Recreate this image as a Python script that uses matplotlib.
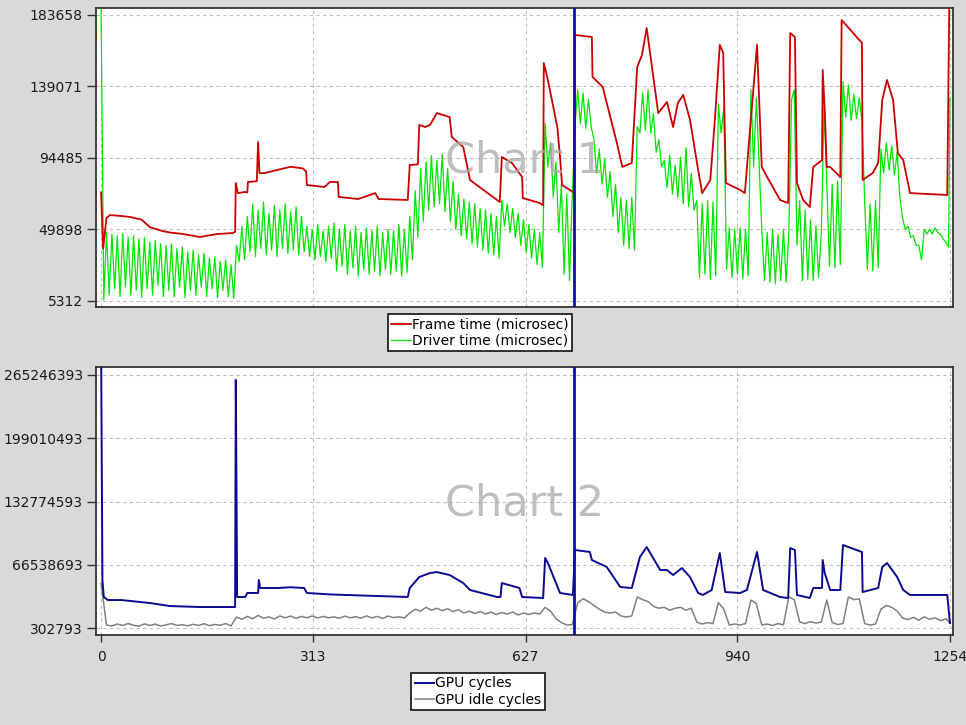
import numpy as np
import matplotlib
matplotlib.use("Agg")
import matplotlib.pyplot as plt

# ---- data ----
x_ticks = [0, 313, 627, 940, 1254]
top_ticks = [5312, 49898, 94485, 139071, 183658]
bottom_ticks = [302793, 66538693, 132774593, 199010493, 265246393]
cursor_x = 698

# Frame time (thousand microsec)
red_x = [0, 3, 8, 13, 30, 43, 60, 72, 90, 102, 121, 146, 170, 195, 198, 199, 202, 213, 216, 217,
         230, 232, 234, 242, 260, 280, 298, 303, 304, 330, 338, 350, 351, 380, 405, 410, 453, 456,
         468, 470, 479, 486, 496, 515, 518, 535, 545, 555, 585, 589, 592, 607, 622, 623, 648, 653,
         654, 660, 674, 678, 681, 697, 699, 700, 725, 726, 741, 762, 770, 784, 792, 799, 806, 815,
         823, 836, 845, 852, 860, 870, 882, 888, 900, 907, 914, 919, 923, 944, 951, 959, 969, 976,
         984, 1003, 1015, 1018, 1025, 1028, 1037, 1047, 1052, 1065, 1066, 1069, 1072, 1077, 1092,
         1094, 1111, 1124, 1125, 1140, 1148, 1154, 1161, 1170, 1177, 1185, 1195, 1250, 1253]
red_y = [73, 38, 57, 58.9, 58.3, 57.7, 56, 51.4, 49, 48, 47.1, 45.2, 47, 47.7, 48.5, 78.9, 72.6,
         73.3, 73, 79.5, 80, 104.5, 85, 85.1, 87, 89, 88, 86, 77.6, 76.4, 79.5, 79.5, 70.2, 68.9,
         72.6, 68.9, 68.3, 90.1, 90.5, 115.1, 113.8, 115.1, 122.5, 120, 107.6, 101.3, 80.8, 77.6,
         68.3, 67, 95.1, 91.4, 82.6, 69.5, 66.4, 65, 153.7, 143.1, 113.8, 95.1, 77.6, 73.3, 73,
         171.2, 169.9, 145, 138.8, 103.8, 88.9, 91.4, 151.2, 158.7, 175.5, 147.5, 122.5, 129.4,
         113.8, 128.8, 133.8, 118.2, 87, 72.6, 80.8, 120, 165, 160, 78.9, 74.5, 72.6, 113.8, 165,
         88.9, 82.6, 68.3, 66.4, 172.4, 169.9, 78.9, 68.3, 63.9, 88.9, 93.2, 149.4, 124.4, 88.9,
         88.9, 82.6, 180.5, 172.4, 166.2, 80.8, 85.1, 91.4, 130.6, 143.1, 130.6, 97.6, 93.2, 72.6,
         71.4, 190]

# Driver time (thousand microsec): alternating high / low samples, every 4 frames
green_hi = [188, 48, 47, 46, 47.5, 45, 46, 44, 45, 42,
            43, 41, 40, 41, 38, 39, 36, 37, 34, 35,
            32, 33, 30, 31, 28, 40, 52, 58, 66, 62,
            67, 60, 65, 62, 66, 61, 64, 58, 52, 50,
            53, 49, 52, 54, 50, 53, 49, 52, 48, 51,
            49, 52, 48, 50, 49, 53, 50, 58, 74, 88,
            92, 96, 93, 97, 88, 80, 72, 69, 67, 66,
            63, 62, 60, 58, 68, 66, 63, 60, 56, 53,
            50, 48, 116, 104, 92, 78, 72, 70, 137, 135,
            131, 106, 100, 94, 86, 78, 70, 68, 70, 114,
            135, 137, 122, 106, 93, 96, 90, 95, 101, 85,
            68, 66, 68, 67, 128, 126, 51, 50, 51, 50,
            137, 132, 50, 48, 50, 47, 50, 48, 137, 68,
            62, 56, 52, 48, 80, 78, 80, 142, 140, 134,
            132, 68, 66, 68, 100, 104, 102, 98, 57, 52,
            46, 40, 50, 50, 51, 47, 42]
green_lo = [6, 9, 13, 8, 14, 9, 12, 7.5, 13, 9,
            15, 8, 12, 8, 14, 7.5, 12, 9, 14, 8,
            13, 7.5, 12, 8, 7, 30, 31, 36, 33, 38,
            34, 37, 33, 38, 35, 37, 34, 36, 33, 31,
            33, 30, 32, 24, 27, 22, 26, 21, 25, 22,
            24, 21, 25, 22, 24, 21, 23, 31, 45, 55,
            62, 64, 66, 61, 55, 50, 46, 44, 41, 39,
            37, 35, 34, 32, 52, 48, 45, 40, 36, 32,
            28, 26, 89, 70, 48, 22, 18, 114, 116, 113,
            114, 85, 78, 70, 58, 48, 40, 38, 37, 110,
            112, 110, 98, 89, 76, 72, 70, 66, 64, 62,
            20, 22, 19, 21, 110, 25, 20, 22, 19, 21,
            89, 92, 18, 17, 16, 18, 17, 131, 40, 18,
            19, 18, 20, 126, 27, 26, 28, 120, 118, 119,
            118, 25, 24, 26, 85, 87, 84, 70, 50, 45,
            40, 31, 47, 47, 48, 44, 39]
green_last = 132

# GPU cycles (millions)
blue_x = [0, 2, 4, 10, 30, 72, 102, 146, 198, 199, 200, 201, 213, 216, 232, 233, 235, 260, 280,
          300, 304, 338, 400, 453, 456, 470, 486, 496, 515, 535, 545, 585, 590, 592, 618, 622,
          653, 656, 660, 678, 697, 700, 722, 725, 747, 767, 784, 796, 806, 826, 836, 845, 858,
          870, 882, 889, 902, 914, 922, 944, 954, 969, 978, 1003, 1015, 1018, 1025, 1028, 1047,
          1052, 1065, 1066, 1069, 1077, 1092, 1096, 1124, 1125, 1148, 1154, 1161, 1176, 1185,
          1195, 1250, 1254]
blue_y = [300, 50.6, 32.8, 29.6, 29.6, 26.5, 23.3, 22.3, 22.3, 260, 152, 32.8, 32.8, 37, 37,
          50.6, 42.2, 42.2, 43, 42.2, 37, 35.5, 34, 32.8, 42.2, 53.7, 57.9, 58.9, 55.8, 47.4,
          40.1, 32.8, 32.8, 47.4, 42.2, 32.8, 31.7, 73.6, 68.4, 37, 34.9, 82, 79.9, 71.5, 64.2,
          43.2, 42.2, 74.7, 85.1, 61, 61, 55.8, 63.1, 53.7, 37, 34.9, 40.1, 78.8, 38, 37, 40.1,
          79.9, 40.1, 32.8, 31.7, 84.1, 82, 34.9, 31.7, 42.2, 42.2, 71.5, 57.9, 40.1, 40.1, 87.2,
          79.9, 38, 42.2, 64.2, 68.4, 53.7, 40.1, 34.9, 34.9, 5.5]

# GPU idle cycles (millions), every 8 frames
idle = [47, 3.4, 2.5, 4.5, 3, 5, 3.2, 2.2, 4.6, 3,
        4.4, 2.4, 3.6, 5, 3, 3.8, 2.6, 4.2, 3, 4.8,
        2.8, 4, 3.2, 5, 2.6, 11.8, 9.5, 12.5, 10, 13.5,
        10.5, 12, 9.8, 13, 11, 12.8, 10.5, 12.5, 11, 13,
        10.8, 12.5, 11, 12, 10.5, 12.8, 11, 12.2, 10.6, 13,
        11, 12.4, 10.4, 12.8, 11.2, 12, 10.8, 16, 20, 18,
        22, 19, 21, 18.5, 20.5, 17.5, 19.5, 16, 18, 15.5,
        17.5, 15, 17, 14.5, 16.5, 15, 17, 14, 16, 14.5,
        16, 15, 22, 18, 10, 6, 3.4, 4, 26.5, 31,
        28, 24, 20, 17, 16, 17, 13, 11.8, 13, 32.8,
        30, 28, 23, 21, 22, 19, 21, 22, 19, 21,
        6.6, 4.5, 6, 5, 27, 20, 3.4, 4.5, 3.5, 5,
        29.6, 26, 3.4, 4.5, 3, 5, 3.6, 32.8, 30, 6.6,
        5, 7, 5.5, 6.5, 29.6, 6, 4, 5, 32.8, 30,
        31, 5, 3.4, 4.5, 20, 24, 22, 18, 10.8, 9,
        11.5, 8.5, 12, 9.5, 11, 8, 10]
idle_last = 5.5

# ---- build series ----
gx = np.column_stack([np.arange(len(green_hi)) * 8, np.arange(len(green_lo)) * 8 + 4]).ravel()
gy = np.column_stack([green_hi, green_lo]).ravel()
gx = np.append(gx, 1254)
gy = np.append(gy, green_last) * 1000

ix = np.append(np.arange(len(idle)) * 8, 1254)
iy = np.append(idle, idle_last) * 1e6

bg = '#d9d9d9'
fig = plt.figure(figsize=(9.66, 7.25), dpi=100, facecolor=bg)
W, H = 966, 725
ax1 = fig.add_axes([96 / W, 1 - 307 / H, (953 - 96) / W, (307 - 8) / H])
ax2 = fig.add_axes([96 / W, 1 - 635 / H, (953 - 96) / W, (635 - 367) / H])

ax1.plot(gx, gy, color='#00e600', lw=0.9, label='Driver time (microsec)', zorder=2)
ax1.plot(red_x, np.array(red_y) * 1000, color='#cc0000', lw=1.3,
         label='Frame time (microsec)', zorder=3)
ax1.set_ylim(1570, 188000)
ax1.set_yticks(top_ticks)
ax1.set_yticklabels([str(t) for t in top_ticks])

ax2.plot(ix, iy, color='#808080', lw=1.1, label='GPU idle cycles', zorder=2)
ax2.plot(blue_x, np.array(blue_y) * 1e6, color='#0a0a90', lw=1.4, label='GPU cycles', zorder=3)
ax2.set_ylim(-7.0e6, 273.6e6)
ax2.set_yticks(bottom_ticks)
ax2.set_yticklabels([str(t) for t in bottom_ticks])

for ax in (ax1, ax2):
    ax.set_facecolor('white')
    ax.set_xlim(-7.5, 1258.5)
    ax.set_xticks(x_ticks)
    ax.grid(True, color='#bdbdbd', linestyle=(0, (3, 3)), lw=0.8)
    ax.set_axisbelow(True)
    ax.axvline(cursor_x, color='#10109a', lw=2, zorder=4)
    for s in ax.spines.values():
        s.set_color('#333333')
        s.set_linewidth(1.3)
    ax.tick_params(axis='y', labelsize=10, length=6.5, width=1, color='#333333',
                   labelcolor='#1a1a1a', pad=3)
    ax.tick_params(axis='x', labelsize=10, length=5, width=1, color='#333333',
                   labelcolor='#1a1a1a', pad=6)

ax1.tick_params(axis='x', length=0, labelbottom=False)

ax1.text(0.5, 0.49, 'Chart 1', transform=ax1.transAxes, fontsize=31, color='#a8a8a8',
         alpha=0.75, ha='center', va='center', zorder=5)
ax2.text(0.5, 0.49, 'Chart 2', transform=ax2.transAxes, fontsize=31, color='#a8a8a8',
         alpha=0.75, ha='center', va='center', zorder=5)

h1, l1 = ax1.get_legend_handles_labels()
leg1 = fig.legend(h1[::-1], l1[::-1], loc='upper center', bbox_to_anchor=(480 / W, 1 - 314 / H),
                  fontsize=10, frameon=True, fancybox=False, framealpha=1, edgecolor='#111111',
                  handlelength=1.4, handletextpad=0.1, borderpad=0.25, labelspacing=0.15,
                  borderaxespad=0)
h2, l2 = ax2.get_legend_handles_labels()
leg2 = fig.legend(h2[::-1], l2[::-1], loc='upper center', bbox_to_anchor=(478 / W, 1 - 673 / H),
                  fontsize=10, frameon=True, fancybox=False, framealpha=1, edgecolor='#111111',
                  handlelength=1.4, handletextpad=0.1, borderpad=0.25, labelspacing=0.15,
                  borderaxespad=0)
for leg in (leg1, leg2):
    leg.get_frame().set_linewidth(1.2)

fig.savefig('out.png', dpi=100, facecolor=bg)
